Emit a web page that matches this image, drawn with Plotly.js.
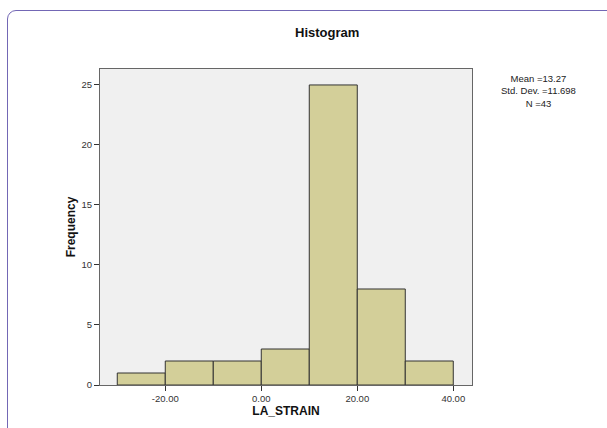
<!DOCTYPE html>
<html>
<head>
<meta charset="utf-8">
<script src="https://cdn.plot.ly/plotly-3.0.1.min.js"></script>
<style>
html,body{margin:0;padding:0;width:607px;height:428px;overflow:hidden;background:#fff;}
#frame{position:absolute;left:7px;top:10px;width:700px;height:500px;border:1.5px solid #7367b5;border-radius:9px;box-sizing:border-box;}
#chart{position:absolute;left:0;top:0;width:607px;height:428px;}
</style>
</head>
<body>
<div id="frame"></div>
<div id="chart"></div>
<script>
const binCenters = [-25, -15, -5, 5, 15, 25, 35];
const binWidth = 10;
const counts = [1, 2, 2, 3, 25, 8, 2];
const xTicks = [-20, 0, 20, 40];
const yTicks = [0, 5, 10, 15, 20, 25];
const statsLines = ["Mean =13.27", "Std. Dev. =11.698", "N =43"];

const trace = {
  type: 'bar',
  x: binCenters,
  y: counts,
  width: binCenters.map(() => binWidth),
  marker: {color: '#d3cf99', line: {color: '#333333', width: 1}},
  hoverinfo: 'x+y'
};

const layout = {
  width: 607, height: 428,
  margin: {l: 100, r: 135, t: 69, b: 43},
  paper_bgcolor: 'rgba(0,0,0,0)',
  plot_bgcolor: '#f0f0f0',
  font: {family: 'Liberation Sans, Arial, sans-serif', color: '#333', size: 9},
  showlegend: false,
  bargap: 0,
  title: {text: 'Histogram', font: {size: 13, color: '#111', weight: 'bold'}, x: 0.539, xref: 'container', y: 0.925, yref: 'container', xanchor: 'center', yanchor: 'middle'},
  xaxis: {
    range: [-33.6, 43.9],
    tickvals: xTicks, ticktext: xTicks.map(v => v.toFixed(2)),
    ticks: 'outside', ticklen: 5, tickcolor: '#333', tickwidth: 1,
    showgrid: false, zeroline: false,
    showline: true, linecolor: '#666', linewidth: 1, mirror: true,
    tickfont: {size: 9.5, color: '#333'},
    title: {text: 'LA_STRAIN', font: {size: 12, color: '#111', weight: 'bold'}, standoff: 3}
  },
  yaxis: {
    range: [0, 26.33],
    tickvals: yTicks,
    ticks: 'outside', ticklen: 5, tickcolor: '#333', tickwidth: 1,
    showgrid: false, zeroline: false,
    showline: true, linecolor: '#666', linewidth: 1, mirror: true,
    tickfont: {size: 9.5, color: '#333'},
    title: {text: 'Frequency', font: {size: 12, color: '#111', weight: 'bold'}, standoff: 3}
  },
  annotations: [{
    xref: 'paper', yref: 'paper', x: 1.18, y: 0.93,
    xanchor: 'center', yanchor: 'middle',
    text: statsLines.join('<br>'), showarrow: false,
    font: {size: 9.5, color: '#222'}, align: 'center'
  }]
};

Plotly.newPlot('chart', [trace], layout, {displayModeBar: false, staticPlot: true});
</script>
</body>
</html>
